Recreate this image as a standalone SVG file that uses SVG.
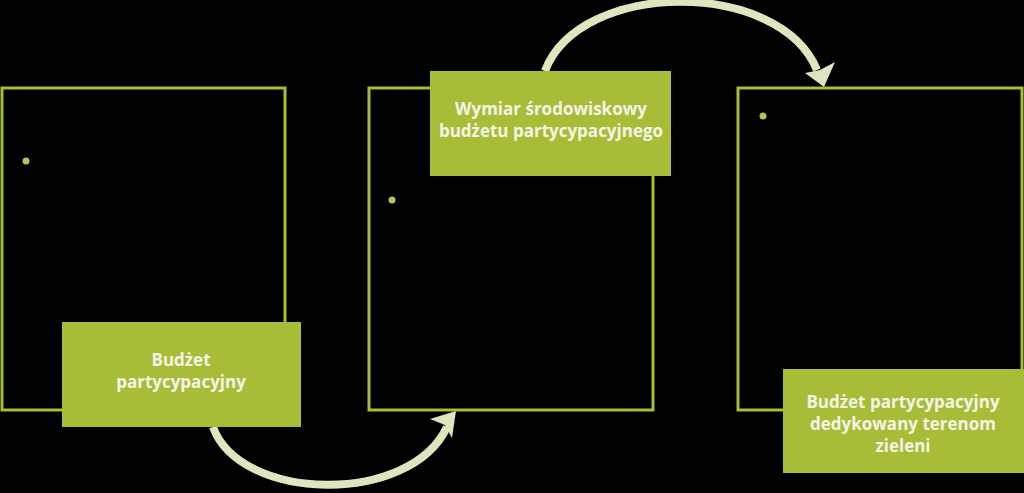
<svg xmlns="http://www.w3.org/2000/svg" width="1024" height="493" viewBox="0 0 1024 493">
<style>
.frame{fill:#000;stroke:#a9bc38;stroke-width:3}
.label{fill:#a9bc38}
.dot{fill:#b4c25a}
.txt{font-family:"Open Sans","Liberation Sans",sans-serif;font-weight:700;font-size:17px;fill:#f4f4e6;text-anchor:middle}
.arc{fill:none;stroke:#dfe5bf;stroke-width:8}
.head{fill:#dfe5bf}
</style>
<rect width="1024" height="493" fill="#000"/>
<g id="connectors">
<path class="arc" d="M545,71 C580,-21 780,-21 817,70"/>
<path class="head" d="M824,87 L835,62 L820,70 L805,73 Z"/>
<path class="arc" d="M213,427 C240,502 410,506 447,427"/>
<path class="head" d="M456,411 L430,419 L445,425 L452,438 Z"/>
</g>
<g id="node1">
<rect class="frame" x="2" y="88" width="283" height="322"/>
<circle class="dot" cx="26" cy="161" r="3.5"/>
<rect class="label" x="62" y="322" width="239" height="105"/>
<text class="txt" x="181" y="366">Budżet</text>
<text class="txt" x="181" y="388">partycypacyjny</text>
</g>
<g id="node2">
<rect class="frame" x="369" y="88" width="284" height="322"/>
<circle class="dot" cx="392" cy="200" r="3.5"/>
<rect class="label" x="430" y="71" width="241" height="105"/>
<text class="txt" x="551" y="115">Wymiar środowiskowy</text>
<text class="txt" x="551" y="137">budżetu partycypacyjnego</text>
</g>
<g id="node3">
<rect class="frame" x="738" y="88" width="284" height="322"/>
<circle class="dot" cx="763" cy="116" r="3.5"/>
<rect class="label" x="783" y="369" width="241" height="104"/>
<text class="txt" x="903" y="408">Budżet partycypacyjny</text>
<text class="txt" x="903" y="430">dedykowany terenom</text>
<text class="txt" x="903" y="452">zieleni</text>
</g>
</svg>
